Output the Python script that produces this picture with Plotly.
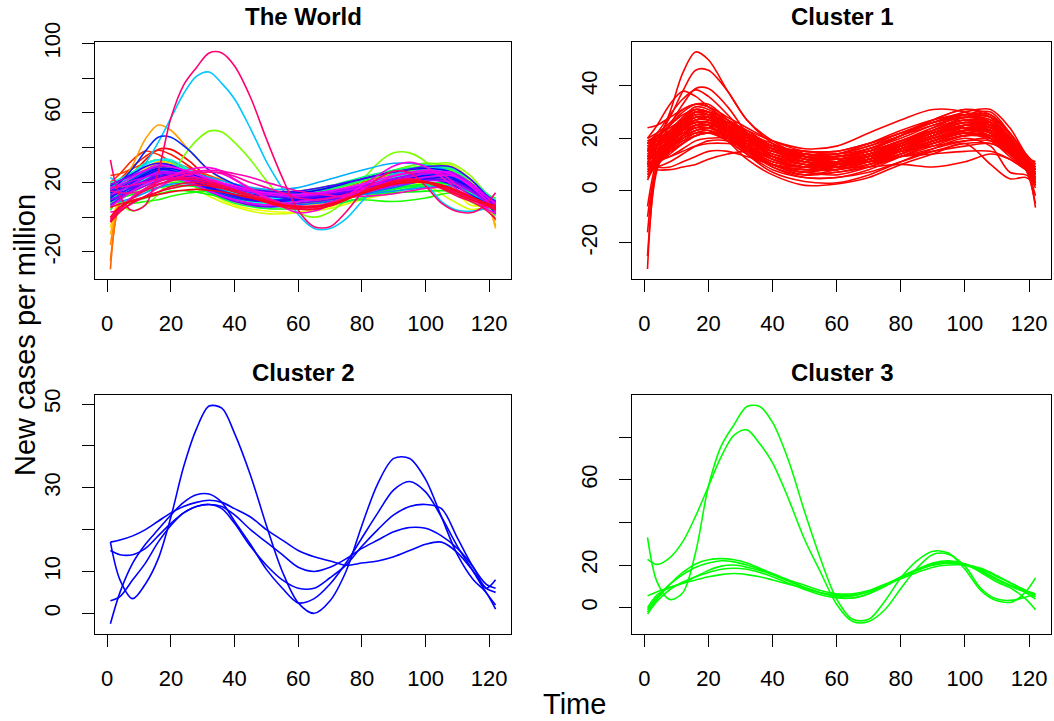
import colorsys
import plotly.graph_objects as go

# ---------------- data ----------------
days_c1 = [1, 4, 8, 12, 16, 20, 26, 32, 40, 50, 60, 70, 80, 90, 100, 108, 114, 119, 122]
days_c23 = [1, 4, 8, 12, 16, 20, 24, 28, 32, 36, 40, 45, 50, 55, 60, 65, 70, 75,
            80, 85, 90, 95, 100, 105, 110, 115, 119, 122]

cluster1 = [
    [12, 18, 30, 45, 53, 50, 38, 27, 18, 12, 11, 14, 18, 22, 24, 20, 14, 9, 4],
    [15, 20, 28, 38, 46, 46, 38, 27, 19, 13, 10, 12, 16, 20, 22, 19, 13, 8, 2],
    [10, 17, 25, 33, 39, 39, 32, 22, 13, 9, 8, 11, 15, 19, 22, 20, 14, 8, 3],
    [18, 22, 29, 35, 38.5, 36, 29, 21, 13, 10, 9, 12, 17, 22, 25, 22, 15, 9, 5],
    [20, 25, 33, 38, 36, 32, 27, 23, 17, 13, 11, 14, 19, 23, 26, 23, 16, 10, 6],
    [24, 25, 28, 31, 33, 32, 28, 24, 19, 15, 14, 16, 20, 25, 28, 27, 20, 12, 8],
    [-30, 10, 20, 27, 31, 30, 25, 19, 13, 11, 10, 13, 18, 23, 27, 25, 18, 10, 2],
    [-25, 8, 18, 25, 29, 28, 23, 17, 11, 9, 9, 12, 17, 22, 26, 24, 17, 9, -2],
    [-16, 9, 17, 23, 26, 26, 21, 16, 10, 8, 8, 11, 16, 21, 24, 22, 15, 8, -5],
    [-10, 10, 19, 26, 30, 29, 22, 16, 10, 7, 7, 10, 15, 20, 23, 21, 15, 9, -6.5],
    [-6, 12, 21, 28, 32, 31, 26, 21, 16, 11, 9, 12, 17, 22, 26, 25, 19, 12, 3],
    [15, 18, 23, 28, 31, 30, 24, 17, 10, 7, 6, 9, 14, 19, 23, 22, 16, 10, 5],
    [12, 15, 20, 26, 30, 30, 23, 16, 9, 5, 5, 8, 13, 18, 22, 20, 14, 8, 4],
    [8, 12, 18, 24, 28, 28, 22, 14, 7, 3.5, 3, 6, 11, 16, 20, 17, 7, 6, 3],
    [5, 10, 15, 21, 25, 25, 19, 12, 6, 2, 2.5, 5, 10, 14, 18, 10, 4.5, 5, 2],
    [17, 19, 22, 25, 27, 27, 24, 20, 15, 11, 10, 13, 18, 24, 29, 30, 22, 13, 9],
    [14, 16, 19, 22, 24, 24, 22, 19, 15, 12, 12, 15, 21, 27, 31, 29, 21, 12, 8],
    [10, 13, 17, 20, 22, 22, 21, 18, 15, 13, 13, 16, 21, 26, 30, 31, 24, 14, 10],
    [18, 20, 23, 26, 28, 28, 25, 21, 17, 15, 15, 18, 22, 27, 31, 28, 19, 11, 7],
    [6, 10, 14, 18, 21, 22, 21, 19, 16, 14, 14, 17, 21, 25, 28, 27, 20, 12, 9],
    [9, 11, 13, 16, 19, 20, 20, 18, 15, 13, 13, 15, 19, 23, 26, 26, 20, 13, 11],
    [10, 8, 8, 9, 10, 12, 14, 15, 13, 10, 9, 9, 10, 9, 11, 14, 12, 8, 6],
    [11, 9, 9, 11, 13, 15, 15, 13, 10, 9, 10, 11, 13, 14, 15, 15, 12, 8, 6],
    [13, 12, 13, 15, 17, 18, 18, 17, 14, 11, 10, 12, 15, 17, 19, 19, 15, 9, 7],
    [16, 14, 15, 18, 21, 22, 19, 14, 10, 8, 8, 10, 13, 16, 19, 20, 16, 10, 7],
    [4, 11, 16, 20, 23, 23, 19, 14, 8, 5, 5, 7, 11, 15, 18, 18, 14, 8, 1],
    [19, 20, 22, 24, 26, 26, 23, 20, 16, 12, 11, 13, 16, 20, 23, 23, 18, 11, 7],
    [13, 16, 21, 26, 29, 29, 26, 22, 17, 14, 13, 16, 21, 26, 29, 28, 20, 11, 6],
    [9, 14, 20, 26, 30, 30, 27, 22, 17, 14, 14, 18, 23, 27, 29, 26, 18, 10, 5],
    [16, 17, 20, 23, 25, 25, 23, 20, 16, 13, 12, 14, 18, 23, 28, 28, 22, 14, 10],
    [20, 22, 26, 31, 33, 32, 25, 18, 12, 9, 9, 12, 16, 21, 25, 24, 17, 10, 4],
    [11, 14, 18, 22, 25, 25, 23, 20, 16, 12, 11, 13, 17, 21, 25, 25, 19, 11, 7],
    [7, 12, 17, 21, 24, 24, 20, 15, 10, 8, 9, 11, 15, 19, 22, 23, 18, 11, 8],
    [14, 15, 17, 19, 21, 22, 21, 19, 16, 13, 11, 12, 15, 18, 21, 21, 17, 11, 8],
    [17, 20, 25, 30, 33, 33, 27, 20, 14, 11, 11, 13, 17, 21, 24, 22, 15, 8, 3],
    [12, 15, 19, 23, 27, 27, 25, 21, 17, 14, 13, 15, 19, 23, 27, 26, 18, 10, 6],
    [18, 19, 21, 24, 27, 28, 26, 23, 19, 16, 17, 22, 27, 31, 30, 26, 18, 11, 8],
    [8, 9, 11, 14, 17, 19, 19, 16, 12, 9, 10, 11, 13, 15, 17, 18, 15, 9, 6],
    [15, 17, 22, 27, 30, 30, 25, 19, 13, 10, 11, 13, 16, 20, 24, 24, 18, 11, 6],
    [10, 13, 18, 23, 26, 26, 22, 16, 10, 6, 7, 9, 13, 17, 21, 21, 16, 9, 5],
    [13, 17, 22, 26, 28, 27, 24, 20, 16, 13, 12, 14, 18, 22, 25, 24, 18, 11, 6],
    [16, 18, 21, 24, 26, 26, 21, 16, 11, 9, 11, 13, 17, 21, 24, 23, 17, 10, 5],
    [11, 15, 20, 24, 27, 27, 22, 17, 12, 9, 10, 13, 17, 21, 24, 23, 17, 10, 4],
    [14, 17, 21, 25, 28, 28, 25, 21, 17, 14, 14, 17, 22, 26, 28, 26, 19, 11, 6],
    [9, 12, 16, 20, 23, 24, 21, 17, 13, 10, 10, 12, 16, 20, 23, 22, 17, 11, 8],
    [18, 21, 25, 29, 31, 30, 24, 18, 12, 9, 10, 12, 15, 19, 22, 21, 16, 10, 5],
    [12, 14, 17, 21, 24, 25, 23, 20, 17, 15, 15, 18, 22, 26, 29, 29, 22, 13, 9],
    [15, 16, 18, 21, 23, 24, 22, 19, 15, 12, 11, 13, 16, 20, 23, 24, 19, 12, 9],
    [7, 11, 16, 21, 25, 26, 21, 15, 9, 6, 8, 10, 14, 18, 21, 21, 16, 10, 6],
    [19, 21, 24, 27, 29, 29, 26, 22, 17, 13, 12, 14, 18, 22, 26, 25, 18, 10, 5],
    [10, 12, 15, 18, 21, 22, 21, 19, 16, 14, 13, 15, 18, 22, 25, 25, 19, 12, 8],
    [17, 18, 21, 23, 25, 25, 20, 15, 10, 7, 9, 11, 14, 18, 21, 20, 15, 9, 4],
    [13, 15, 19, 23, 26, 26, 24, 21, 17, 13, 12, 14, 17, 21, 25, 26, 20, 12, 7],
    [6, 10, 15, 19, 22, 23, 20, 15, 10, 7, 9, 11, 15, 19, 23, 24, 19, 12, 8],
    [16, 19, 23, 27, 30, 29, 26, 22, 18, 14, 13, 15, 19, 24, 27, 25, 18, 10, 3],
]

cluster2 = [
    [17, 8, 3.5, 7, 13, 23, 35, 44, 49.5, 49, 43, 33, 21, 10, 2.5, 0, 3, 10,
     21, 31, 37, 37, 32, 23, 14, 8, 5, 1],
    [-2.5, 5, 12, 16.5, 20, 23.5, 26.5, 28.3, 28.5, 26.5, 22, 16.5, 10.5, 6, 2.5, 3.5, 7, 12,
     18, 24, 29.5, 31.5, 29, 23, 16, 10, 5, 2],
    [3, 4, 8, 12, 17, 21, 24, 25.5, 26, 25, 21.5, 16, 11.5, 8, 6, 6, 8.5, 11.5,
     16, 20, 23.5, 25.5, 26, 25, 18, 11, 7, 6],
    [17, 17.5, 18.5, 20, 22, 24, 25.5, 26.5, 27, 26.5, 25, 23, 20, 17.5, 15, 13.5, 12.5, 11.5,
     12, 12.5, 13.5, 15, 16.5, 17, 14.5, 10, 6, 5],
    [15, 14, 14, 15.5, 18.5, 21.5, 24, 25.5, 26, 25.5, 23.5, 20, 17, 14, 11, 10, 11, 13,
     15.5, 17.5, 19.5, 20.5, 20.3, 18.5, 15.5, 11, 6, 8],
]

cluster3 = [
    [33, 12, 3.8, 7, 26, 57, 76, 86, 94.5, 94.5, 87, 69, 45, 22.7, 4, -5.5, -5.5, 3,
     14, 22, 26.5, 25.5, 18, 8, 3.2, 2.8, 7.5, 14],
    [22.7, 20.3, 23.5, 31, 43, 57, 71, 81, 83.5, 77, 68, 51, 32, 16.5, 1.5, -6.5, -6.5, -1,
     9, 18.5, 25, 25, 19.5, 9, 4, 3.5, 5, 6],
    [-2, 4, 11, 16.5, 20.5, 22.5, 23, 22.5, 21, 18.5, 16, 13, 10.5, 8, 6.5, 6.5, 8, 11,
     14, 17.5, 20, 21, 20.5, 17.5, 13.5, 10, 7.5, 6],
    [-1, 5, 11, 15.5, 19, 21, 22, 21.5, 20, 18, 15.5, 12.5, 9.5, 7, 5.5, 5.5, 7.5, 10.5,
     14.5, 18, 21, 22, 20.5, 16.5, 12, 8.5, 4, -1],
    [5.5, 7.5, 9.5, 11.5, 14.5, 17.5, 19.5, 20, 19, 17.5, 15.5, 12.5, 9.5, 7, 5, 4.5, 6.5, 10,
     14, 17.5, 20.5, 21.5, 20.5, 18, 14.5, 11, 8, 5],
    [-3, 3, 8.5, 12, 14.5, 16.5, 18, 18.5, 18, 16.5, 14.5, 11.5, 8.5, 6, 4.5, 4.5, 6.5, 10,
     14, 17.5, 20, 21, 20, 17, 13, 9.5, 7, 4],
    [0, 6, 9.5, 11.5, 13, 14.5, 15.5, 16, 15.5, 14.5, 13, 11, 9, 7, 6, 6, 7.5, 10.5,
     13.5, 16.5, 19, 20, 20, 18.5, 15, 11, 8, 6.5],
]

panel_titles = ["The World", "Cluster 1", "Cluster 2", "Cluster 3"]
x_ticks = [0, 20, 40, 60, 80, 100, 120]
y_ticks = {
    1: ([-20, 0, 20, 40, 60, 80, 100], ["-20", "", "20", "", "60", "", "100"]),
    2: ([-20, 0, 20, 40], ["-20", "0", "20", "40"]),
    3: ([0, 10, 20, 30, 40, 50], ["0", "10", "", "30", "", "50"]),
    4: ([0, 20, 40, 60, 80], ["0", "20", "", "60", ""]),
}

# ---------------- figure ----------------
W, H = 1054, 721
FONT = "Liberation Sans, Arial, sans-serif"


def px_x(p):
    return p / W


def px_y(p):
    return 1 - p / H


fig = go.Figure()
LW = 1.6

# World panel: all countries, rainbow colours
entries = [("c1", i) for i in range(len(cluster1))] + \
          [("c2", i) for i in range(len(cluster2))] + \
          [("c3", i) for i in range(len(cluster3))]
n = len(entries)
fixed = {62: ("c3", 0), 36: ("c3", 1), 17: ("c2", 0), 7: ("c1", 0), 43: ("c1", 1)}
rest = [e for e in entries if e not in fixed.values()]
slots = []
it = iter(rest)
for k in range(n):
    slots.append(fixed[k] if k in fixed else next(it))

src = {"c1": (days_c1, cluster1), "c2": (days_c23, cluster2), "c3": (days_c23, cluster3)}
for k, (c, i) in enumerate(slots):
    r, g, b = colorsys.hsv_to_rgb(k / n, 1, 1)
    col = "rgb(%d,%d,%d)" % (round(r * 255), round(g * 255), round(b * 255))
    xs, ys = src[c]
    fig.add_trace(go.Scatter(x=xs, y=ys[i], mode="lines",
                             line=dict(color=col, width=LW, shape="spline", smoothing=0.9),
                             xaxis="x", yaxis="y", showlegend=False, hoverinfo="skip"))

for ys in cluster1:
    fig.add_trace(go.Scatter(x=days_c1, y=ys, mode="lines",
                             line=dict(color="#FF0000", width=LW, shape="spline", smoothing=0.9),
                             xaxis="x2", yaxis="y2", showlegend=False, hoverinfo="skip"))
for ys in cluster2:
    fig.add_trace(go.Scatter(x=days_c23, y=ys, mode="lines",
                             line=dict(color="#0000FF", width=LW, shape="spline", smoothing=0.9),
                             xaxis="x3", yaxis="y3", showlegend=False, hoverinfo="skip"))
for ys in cluster3:
    fig.add_trace(go.Scatter(x=days_c23, y=ys, mode="lines",
                             line=dict(color="#00FF00", width=LW, shape="spline", smoothing=0.9),
                             xaxis="x4", yaxis="y4", showlegend=False, hoverinfo="skip"))

boxes = {
    1: (95, 511, 42, 279),
    2: (632, 1051, 42, 279),
    3: (95, 511, 395, 634),
    4: (632, 1051, 395, 634),
}
y_ranges = {1: [-35.6, 100.8], 2: [-33.8, 56.8], 3: [-4.94, 52.15], 4: [-12.4, 99.9]}

layout = dict(width=W, height=H, margin=dict(l=0, r=0, t=0, b=0, autoexpand=False),
              template="none", autosize=False,
              paper_bgcolor="white", plot_bgcolor="white",
              font=dict(family=FONT, color="black"))
axis_common = dict(showgrid=False, zeroline=False, showline=True, mirror=True,
                   automargin=False,
                   linecolor="black", linewidth=1, ticks="outside", ticklen=12,
                   tickwidth=1, tickcolor="black", tickfont=dict(size=22, family=FONT, color="black"))
for p in range(1, 5):
    x0, x1, y0, y1 = boxes[p]
    sx = "" if p == 1 else str(p)
    layout["xaxis" + sx] = dict(axis_common, domain=[px_x(x0), px_x(x1)], range=[-3.84, 126.84],
                                tickvals=x_ticks, ticktext=[str(v) for v in x_ticks],
                                anchor="y" + sx, ticklabelstandoff=13)
    tv, tt = y_ticks[p]
    layout["yaxis" + sx] = dict(axis_common, domain=[px_y(y1), px_y(y0)], range=y_ranges[p],
                                tickvals=tv, ticktext=tt, tickangle=-90,
                                anchor="x" + sx, ticklabelstandoff=13)

fig.update_layout(**layout)

title_pos = {1: (303, 17), 2: (842, 17), 3: (303, 372), 4: (842, 372)}
for p in range(1, 5):
    cx, cy = title_pos[p]
    fig.add_annotation(x=px_x(cx), y=px_y(cy), xref="paper", yref="paper",
                       text="<b>%s</b>" % panel_titles[p - 1], showarrow=False,
                       xanchor="center", yanchor="middle",
                       font=dict(size=24, family=FONT, color="black"))

fig.add_annotation(x=px_x(25), y=px_y(335), xref="paper", yref="paper",
                   text="New cases per million", textangle=-90, showarrow=False,
                   xanchor="center", yanchor="middle", font=dict(size=29, family=FONT, color="black"))
fig.add_annotation(x=px_x(574), y=px_y(704), xref="paper", yref="paper",
                   text="Time", showarrow=False,
                   xanchor="center", yanchor="middle", font=dict(size=29, family=FONT, color="black"))

fig.write_html("out.html", config={"displayModeBar": False},
               post_script="document.body.style.margin='0px';document.body.style.padding='0px';")
